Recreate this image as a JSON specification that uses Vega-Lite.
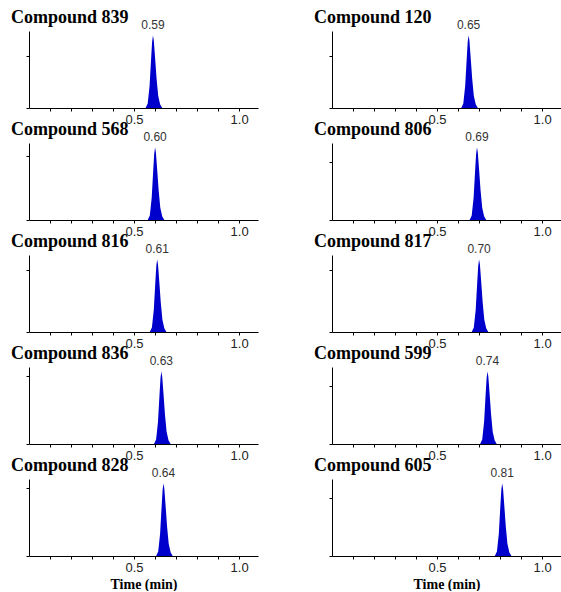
{
"$schema": "https://vega.github.io/schema/vega-lite/v6.json",
"padding": {"left": 11, "top": 9, "right": 0, "bottom": 0},
"data": {"values": [
{"c":"839","t":0.555,"v":0},{"c":"839","t":0.565,"v":6},{"c":"839","t":0.574,"v":29},{"c":"839","t":0.581,"v":63},{"c":"839","t":0.586,"v":86},{"c":"839","t":0.59,"v":94,"lab":"0.59"},{"c":"839","t":0.594,"v":88},{"c":"839","t":0.6,"v":66},{"c":"839","t":0.607,"v":39},{"c":"839","t":0.615,"v":16},{"c":"839","t":0.624,"v":5},{"c":"839","t":0.634,"v":0},
{"c":"568","t":0.565,"v":0},{"c":"568","t":0.575,"v":6},{"c":"568","t":0.584,"v":29},{"c":"568","t":0.591,"v":63},{"c":"568","t":0.596,"v":86},{"c":"568","t":0.6,"v":94,"lab":"0.60"},{"c":"568","t":0.604,"v":88},{"c":"568","t":0.61,"v":66},{"c":"568","t":0.617,"v":39},{"c":"568","t":0.625,"v":16},{"c":"568","t":0.634,"v":5},{"c":"568","t":0.644,"v":0},
{"c":"816","t":0.575,"v":0},{"c":"816","t":0.585,"v":6},{"c":"816","t":0.594,"v":29},{"c":"816","t":0.601,"v":63},{"c":"816","t":0.606,"v":86},{"c":"816","t":0.61,"v":94,"lab":"0.61"},{"c":"816","t":0.614,"v":88},{"c":"816","t":0.62,"v":66},{"c":"816","t":0.627,"v":39},{"c":"816","t":0.635,"v":16},{"c":"816","t":0.644,"v":5},{"c":"816","t":0.654,"v":0},
{"c":"836","t":0.595,"v":0},{"c":"836","t":0.605,"v":6},{"c":"836","t":0.614,"v":29},{"c":"836","t":0.621,"v":63},{"c":"836","t":0.626,"v":86},{"c":"836","t":0.63,"v":94,"lab":"0.63"},{"c":"836","t":0.634,"v":88},{"c":"836","t":0.64,"v":66},{"c":"836","t":0.647,"v":39},{"c":"836","t":0.655,"v":16},{"c":"836","t":0.664,"v":5},{"c":"836","t":0.674,"v":0},
{"c":"828","t":0.605,"v":0},{"c":"828","t":0.615,"v":6},{"c":"828","t":0.624,"v":29},{"c":"828","t":0.631,"v":63},{"c":"828","t":0.636,"v":86},{"c":"828","t":0.64,"v":94,"lab":"0.64"},{"c":"828","t":0.644,"v":88},{"c":"828","t":0.65,"v":66},{"c":"828","t":0.657,"v":39},{"c":"828","t":0.665,"v":16},{"c":"828","t":0.674,"v":5},{"c":"828","t":0.684,"v":0},
{"c":"120","t":0.615,"v":0},{"c":"120","t":0.625,"v":6},{"c":"120","t":0.634,"v":29},{"c":"120","t":0.641,"v":63},{"c":"120","t":0.646,"v":86},{"c":"120","t":0.65,"v":94,"lab":"0.65"},{"c":"120","t":0.654,"v":88},{"c":"120","t":0.66,"v":66},{"c":"120","t":0.667,"v":39},{"c":"120","t":0.675,"v":16},{"c":"120","t":0.684,"v":5},{"c":"120","t":0.694,"v":0},
{"c":"806","t":0.655,"v":0},{"c":"806","t":0.665,"v":6},{"c":"806","t":0.674,"v":29},{"c":"806","t":0.681,"v":63},{"c":"806","t":0.686,"v":86},{"c":"806","t":0.69,"v":94,"lab":"0.69"},{"c":"806","t":0.694,"v":88},{"c":"806","t":0.7,"v":66},{"c":"806","t":0.707,"v":39},{"c":"806","t":0.715,"v":16},{"c":"806","t":0.724,"v":5},{"c":"806","t":0.734,"v":0},
{"c":"817","t":0.665,"v":0},{"c":"817","t":0.675,"v":6},{"c":"817","t":0.684,"v":29},{"c":"817","t":0.691,"v":63},{"c":"817","t":0.696,"v":86},{"c":"817","t":0.7,"v":94,"lab":"0.70"},{"c":"817","t":0.704,"v":88},{"c":"817","t":0.71,"v":66},{"c":"817","t":0.717,"v":39},{"c":"817","t":0.725,"v":16},{"c":"817","t":0.734,"v":5},{"c":"817","t":0.744,"v":0},
{"c":"599","t":0.705,"v":0},{"c":"599","t":0.715,"v":6},{"c":"599","t":0.724,"v":29},{"c":"599","t":0.731,"v":63},{"c":"599","t":0.736,"v":86},{"c":"599","t":0.74,"v":94,"lab":"0.74"},{"c":"599","t":0.744,"v":88},{"c":"599","t":0.75,"v":66},{"c":"599","t":0.757,"v":39},{"c":"599","t":0.765,"v":16},{"c":"599","t":0.774,"v":5},{"c":"599","t":0.784,"v":0},
{"c":"605","t":0.775,"v":0},{"c":"605","t":0.785,"v":6},{"c":"605","t":0.794,"v":29},{"c":"605","t":0.801,"v":63},{"c":"605","t":0.806,"v":86},{"c":"605","t":0.81,"v":94,"lab":"0.81"},{"c":"605","t":0.814,"v":88},{"c":"605","t":0.82,"v":66},{"c":"605","t":0.827,"v":39},{"c":"605","t":0.835,"v":16},{"c":"605","t":0.844,"v":5},{"c":"605","t":0.854,"v":0}
]},
"columns": 2,
"bounds": "flush",
"spacing": {"row": 35, "column": 74},
"concat": [
{"title": "Compound 839", "width": 229, "height": 77, "transform": [{"filter": "datum.c == '839'"}],
 "encoding": {"x": {"field": "t", "type": "quantitative", "scale": {"domain": [0, 1.09], "nice": false}, "axis": {"values": [0.1,0.2,0.3,0.4,0.5,0.6,0.7,0.8,0.9,1.0], "labelExpr": "datum.value == 0.5 || datum.value == 1 ? format(datum.value, '.1f') : ''", "title": null}}},
 "layer": [
  {"mark": {"type": "area", "color": "#0000cd"}, "encoding": {"y": {"field": "v", "type": "quantitative", "scale": {"domain": [0, 100], "nice": false}, "axis": {"values": [0, 33, 67], "labels": false, "title": null}}}},
  {"transform": [{"filter": "isValid(datum.lab)"}], "mark": {"type": "text", "baseline": "bottom", "dy": 1}, "encoding": {"y": {"datum": 100}, "text": {"field": "lab"}}}
 ]},
{"title": "Compound 120", "width": 229, "height": 77, "transform": [{"filter": "datum.c == '120'"}],
 "encoding": {"x": {"field": "t", "type": "quantitative", "scale": {"domain": [0, 1.09], "nice": false}, "axis": {"values": [0.1,0.2,0.3,0.4,0.5,0.6,0.7,0.8,0.9,1.0], "labelExpr": "datum.value == 0.5 || datum.value == 1 ? format(datum.value, '.1f') : ''", "title": null}}},
 "layer": [
  {"mark": {"type": "area", "color": "#0000cd"}, "encoding": {"y": {"field": "v", "type": "quantitative", "scale": {"domain": [0, 100], "nice": false}, "axis": {"values": [0, 33, 67], "labels": false, "title": null}}}},
  {"transform": [{"filter": "isValid(datum.lab)"}], "mark": {"type": "text", "baseline": "bottom", "dy": 1}, "encoding": {"y": {"datum": 100}, "text": {"field": "lab"}}}
 ]},
{"title": "Compound 568", "width": 229, "height": 77, "transform": [{"filter": "datum.c == '568'"}],
 "encoding": {"x": {"field": "t", "type": "quantitative", "scale": {"domain": [0, 1.09], "nice": false}, "axis": {"values": [0.1,0.2,0.3,0.4,0.5,0.6,0.7,0.8,0.9,1.0], "labelExpr": "datum.value == 0.5 || datum.value == 1 ? format(datum.value, '.1f') : ''", "title": null}}},
 "layer": [
  {"mark": {"type": "area", "color": "#0000cd"}, "encoding": {"y": {"field": "v", "type": "quantitative", "scale": {"domain": [0, 100], "nice": false}, "axis": {"values": [0, 17, 33, 50, 67, 83], "labels": false, "title": null}}}},
  {"transform": [{"filter": "isValid(datum.lab)"}], "mark": {"type": "text", "baseline": "bottom", "dy": 1}, "encoding": {"y": {"datum": 100}, "text": {"field": "lab"}}}
 ]},
{"title": "Compound 806", "width": 229, "height": 77, "transform": [{"filter": "datum.c == '806'"}],
 "encoding": {"x": {"field": "t", "type": "quantitative", "scale": {"domain": [0, 1.09], "nice": false}, "axis": {"values": [0.1,0.2,0.3,0.4,0.5,0.6,0.7,0.8,0.9,1.0], "labelExpr": "datum.value == 0.5 || datum.value == 1 ? format(datum.value, '.1f') : ''", "title": null}}},
 "layer": [
  {"mark": {"type": "area", "color": "#0000cd"}, "encoding": {"y": {"field": "v", "type": "quantitative", "scale": {"domain": [0, 100], "nice": false}, "axis": {"values": [0, 25, 50, 75], "labels": false, "title": null}}}},
  {"transform": [{"filter": "isValid(datum.lab)"}], "mark": {"type": "text", "baseline": "bottom", "dy": 1}, "encoding": {"y": {"datum": 100}, "text": {"field": "lab"}}}
 ]},
{"title": "Compound 816", "width": 229, "height": 77, "transform": [{"filter": "datum.c == '816'"}],
 "encoding": {"x": {"field": "t", "type": "quantitative", "scale": {"domain": [0, 1.09], "nice": false}, "axis": {"values": [0.1,0.2,0.3,0.4,0.5,0.6,0.7,0.8,0.9,1.0], "labelExpr": "datum.value == 0.5 || datum.value == 1 ? format(datum.value, '.1f') : ''", "title": null}}},
 "layer": [
  {"mark": {"type": "area", "color": "#0000cd"}, "encoding": {"y": {"field": "v", "type": "quantitative", "scale": {"domain": [0, 100], "nice": false}, "axis": {"values": [0, 20, 40, 60, 80], "labels": false, "title": null}}}},
  {"transform": [{"filter": "isValid(datum.lab)"}], "mark": {"type": "text", "baseline": "bottom", "dy": 1}, "encoding": {"y": {"datum": 100}, "text": {"field": "lab"}}}
 ]},
{"title": "Compound 817", "width": 229, "height": 77, "transform": [{"filter": "datum.c == '817'"}],
 "encoding": {"x": {"field": "t", "type": "quantitative", "scale": {"domain": [0, 1.09], "nice": false}, "axis": {"values": [0.1,0.2,0.3,0.4,0.5,0.6,0.7,0.8,0.9,1.0], "labelExpr": "datum.value == 0.5 || datum.value == 1 ? format(datum.value, '.1f') : ''", "title": null}}},
 "layer": [
  {"mark": {"type": "area", "color": "#0000cd"}, "encoding": {"y": {"field": "v", "type": "quantitative", "scale": {"domain": [0, 100], "nice": false}, "axis": {"values": [0, 20, 40, 60, 80], "labels": false, "title": null}}}},
  {"transform": [{"filter": "isValid(datum.lab)"}], "mark": {"type": "text", "baseline": "bottom", "dy": 1}, "encoding": {"y": {"datum": 100}, "text": {"field": "lab"}}}
 ]},
{"title": "Compound 836", "width": 229, "height": 77, "transform": [{"filter": "datum.c == '836'"}],
 "encoding": {"x": {"field": "t", "type": "quantitative", "scale": {"domain": [0, 1.09], "nice": false}, "axis": {"values": [0.1,0.2,0.3,0.4,0.5,0.6,0.7,0.8,0.9,1.0], "labelExpr": "datum.value == 0.5 || datum.value == 1 ? format(datum.value, '.1f') : ''", "title": null}}},
 "layer": [
  {"mark": {"type": "area", "color": "#0000cd"}, "encoding": {"y": {"field": "v", "type": "quantitative", "scale": {"domain": [0, 100], "nice": false}, "axis": {"values": [0, 45, 88], "labels": false, "title": null}}}},
  {"transform": [{"filter": "isValid(datum.lab)"}], "mark": {"type": "text", "baseline": "bottom", "dy": 1}, "encoding": {"y": {"datum": 100}, "text": {"field": "lab"}}}
 ]},
{"title": "Compound 599", "width": 229, "height": 77, "transform": [{"filter": "datum.c == '599'"}],
 "encoding": {"x": {"field": "t", "type": "quantitative", "scale": {"domain": [0, 1.09], "nice": false}, "axis": {"values": [0.1,0.2,0.3,0.4,0.5,0.6,0.7,0.8,0.9,1.0], "labelExpr": "datum.value == 0.5 || datum.value == 1 ? format(datum.value, '.1f') : ''", "title": null}}},
 "layer": [
  {"mark": {"type": "area", "color": "#0000cd"}, "encoding": {"y": {"field": "v", "type": "quantitative", "scale": {"domain": [0, 100], "nice": false}, "axis": {"values": [0, 25, 50, 75], "labels": false, "title": null}}}},
  {"transform": [{"filter": "isValid(datum.lab)"}], "mark": {"type": "text", "baseline": "bottom", "dy": 1}, "encoding": {"y": {"datum": 100}, "text": {"field": "lab"}}}
 ]},
{"title": "Compound 828", "width": 229, "height": 77, "transform": [{"filter": "datum.c == '828'"}],
 "encoding": {"x": {"field": "t", "type": "quantitative", "scale": {"domain": [0, 1.09], "nice": false}, "axis": {"values": [0.1,0.2,0.3,0.4,0.5,0.6,0.7,0.8,0.9,1.0], "labelExpr": "datum.value == 0.5 || datum.value == 1 ? format(datum.value, '.1f') : ''", "title": "Time (min)"}}},
 "layer": [
  {"mark": {"type": "area", "color": "#0000cd"}, "encoding": {"y": {"field": "v", "type": "quantitative", "scale": {"domain": [0, 100], "nice": false}, "axis": {"values": [0, 50, 88], "labels": false, "title": null}}}},
  {"transform": [{"filter": "isValid(datum.lab)"}], "mark": {"type": "text", "baseline": "bottom", "dy": 1}, "encoding": {"y": {"datum": 100}, "text": {"field": "lab"}}}
 ]},
{"title": "Compound 605", "width": 229, "height": 77, "transform": [{"filter": "datum.c == '605'"}],
 "encoding": {"x": {"field": "t", "type": "quantitative", "scale": {"domain": [0, 1.09], "nice": false}, "axis": {"values": [0.1,0.2,0.3,0.4,0.5,0.6,0.7,0.8,0.9,1.0], "labelExpr": "datum.value == 0.5 || datum.value == 1 ? format(datum.value, '.1f') : ''", "title": "Time (min)"}}},
 "layer": [
  {"mark": {"type": "area", "color": "#0000cd"}, "encoding": {"y": {"field": "v", "type": "quantitative", "scale": {"domain": [0, 100], "nice": false}, "axis": {"values": [0, 25, 50, 75], "labels": false, "title": null}}}},
  {"transform": [{"filter": "isValid(datum.lab)"}], "mark": {"type": "text", "baseline": "bottom", "dy": 1}, "encoding": {"y": {"datum": 100}, "text": {"field": "lab"}}}
 ]}
],
"config": {
 "view": {"stroke": null},
 "axis": {"domainColor": "#000", "tickColor": "#000", "grid": false, "labelFont": "Liberation Sans", "labelFontSize": 13, "labelColor": "#222", "tickSize": 3, "labelPadding": 2, "domainWidth": 1, "titleFont": "Liberation Serif", "titleFontSize": 14, "titleFontWeight": "bold", "titleColor": "#000", "titlePadding": 3},
 "title": {"font": "Liberation Serif", "fontSize": 18, "fontWeight": "bold", "anchor": "start", "frame": "group", "dx": -18, "offset": -8, "baseline": "alphabetic", "color": "#000"},
 "text": {"font": "Liberation Sans", "fontSize": 12, "color": "#333"}
}
}
